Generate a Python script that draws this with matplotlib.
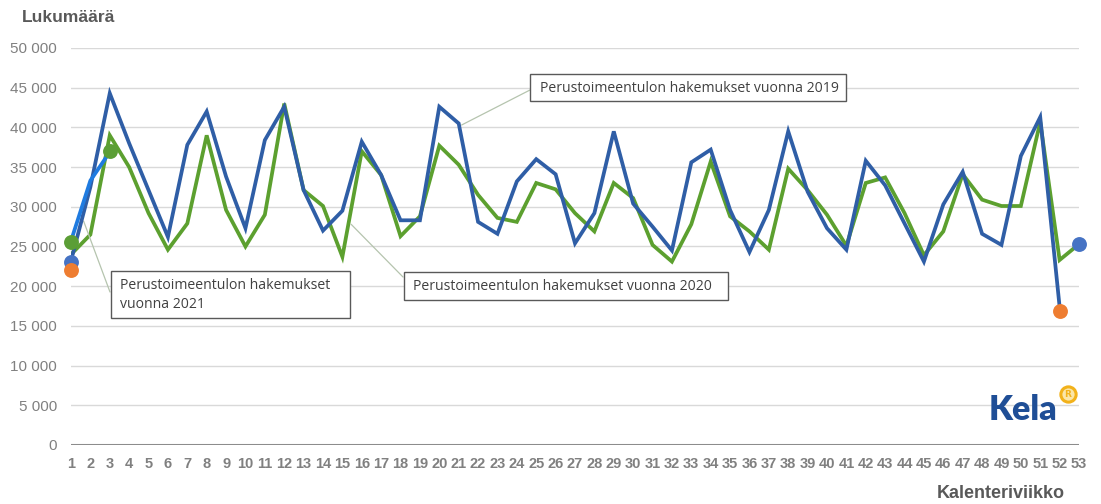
import matplotlib
matplotlib.use("Agg")
import matplotlib.pyplot as plt
from matplotlib.patches import Rectangle
from matplotlib.lines import Line2D

# ---------------- data ----------------
weeks_2019 = list(range(1, 53))
values_2019 = [23200, 32500, 44300, 38000, 32100, 26200, 37800, 42000, 33800, 27300,
               38400, 42600, 32100, 27000, 29500, 38200, 34000, 28300, 28300, 42600,
               40500, 28100, 26600, 33200, 36000, 34100, 25400, 29200, 39500, 30400,
               27500, 24500, 35600, 37200, 29600, 24300, 29600, 39500, 31900, 27300,
               24600, 35800, 32700, 27900, 23100, 30300, 34400, 26600, 25200, 36400,
               41300, 17400]

weeks_2020 = list(range(1, 54))
values_2020 = [24000, 26500, 39000, 35000, 29200, 24600, 27900, 39000, 29600, 25000,
               29000, 43000, 32100, 30100, 23700, 37000, 34000, 26300, 28800, 37700,
               35300, 31500, 28600, 28100, 33000, 32200, 29200, 26900, 33000, 31100,
               25200, 23100, 27800, 35700, 28800, 26900, 24600, 34800, 32100, 29000,
               25100, 33000, 33700, 29200, 23900, 26900, 34100, 30900, 30100, 30100,
               40700, 23300, 25300]

weeks_2021 = [1, 2, 3]
values_2021 = [25700, 33300, 36900]

# highlighted points (week, value, colour key)
dot_weeks = [1, 1, 1, 3, 52, 53]
dot_values = [25600, 23100, 22000, 37000, 16900, 25300]
dot_kinds = ["green", "blue", "orange", "green", "orange", "blue"]

x_ticks = list(range(1, 54))
y_ticks = list(range(0, 50001, 5000))
y_tick_labels = ["0" if v == 0 else f"{v // 1000} 000" for v in y_ticks]

labels = ["Perustoimeentulon hakemukset vuonna 2019",
          "Perustoimeentulon hakemukset vuonna 2020",
          "Perustoimeentulon hakemukset\nvuonna 2021"]

# ---------------- style ----------------
C_2019 = "#2f5ea6"
C_2020 = "#5ca02f"
C_2021 = "#1f7be0"
DOT = {"green": "#5b9e36", "blue": "#4673c4", "orange": "#ee7d31"}
GRID = "#d9d9d9"
TICK = "#808080"

W, H = 1101, 504
fig = plt.figure(figsize=(W / 100, H / 100), dpi=100)
fig.patch.set_facecolor("white")

def fx(px):
    return px / W

def fy(py):
    return 1 - py / H

ax_left, ax_right, ax_top, ax_bottom = 71, 1079, 48, 445
ax = fig.add_axes([fx(ax_left), fy(ax_bottom), fx(ax_right - ax_left), (ax_bottom - ax_top) / H])
ax.set_xlim(1, 53)
ax.set_ylim(0, 50000)
for s in ax.spines.values():
    s.set_visible(False)
ax.set_yticks(y_ticks)
ax.set_yticklabels(y_tick_labels, fontfamily="Liberation Sans", fontsize=11, color=TICK)
ax.set_xticks(x_ticks)
ax.set_xticklabels([str(w) for w in x_ticks], fontfamily="Liberation Sans",
                   fontsize=10.5, fontweight="bold", color=TICK)
ax.tick_params(axis="both", length=0)
ax.tick_params(axis="y", pad=10)
ax.tick_params(axis="x", pad=9)
ax.grid(axis="y", color=GRID, lw=1.0)
ax.set_axisbelow(True)
ax.axhline(0, color="#8c8c8c", lw=2.2, zorder=2)

ax.plot(weeks_2020, values_2020, color=C_2020, lw=2.7, zorder=3, solid_joinstyle="miter")
ax.plot(weeks_2019, values_2019, color=C_2019, lw=2.7, zorder=4, solid_joinstyle="miter")
ax.plot(weeks_2021, values_2021, color=C_2021, lw=2.7, zorder=5)
for w, v, k in zip(dot_weeks, dot_values, dot_kinds):
    ax.scatter([w], [v], s=115, color=DOT[k], zorder=6, clip_on=False, linewidths=0)

# ---------------- annotations ----------------
conn_col = "#b5c4ae"
ann_font = dict(fontfamily="Open Sans", fontsize=10.1, color="#404040")

def box(x0, y0, x1, y1):
    fig.patches.append(Rectangle((fx(x0), fy(y1)), fx(x1 - x0), (y1 - y0) / H,
                                 transform=fig.transFigure, facecolor="white",
                                 edgecolor="#595959", lw=1.0, zorder=10))

# 2019
ax.annotate("", xy=(21.15, 40300), xytext=(530, H - 90), textcoords="figure pixels",
            arrowprops=dict(arrowstyle="-", color=conn_col, lw=0.9, shrinkA=0, shrinkB=0))
box(530, 74, 846, 101)
fig.text(fx(540), fy(88), labels[0], va="center", ha="left", zorder=11, **ann_font)

# 2020
ax.annotate("", xy=(15.45, 27800), xytext=(403, H - 277), textcoords="figure pixels",
            arrowprops=dict(arrowstyle="-", color=conn_col, lw=0.9, shrinkA=0, shrinkB=0))
box(404, 272, 728, 300)
fig.text(fx(413), fy(286), labels[1], va="center", ha="left", zorder=11, **ann_font)

# 2021
ax.annotate("", xy=(1.65, 28200), xytext=(110, H - 292), textcoords="figure pixels",
            arrowprops=dict(arrowstyle="-", color=conn_col, lw=0.9, shrinkA=0, shrinkB=0))
box(111, 271, 350, 318)
fig.text(fx(120), fy(295), labels[2], va="center", ha="left", zorder=11,
         linespacing=1.4, **ann_font)

# ---------------- titles ----------------
fig.text(fx(22), fy(17), "Lukumäärä", fontfamily="Liberation Sans", fontweight="bold",
         fontsize=12.5, color="#595959", va="center", ha="left")
fig.text(fx(1065), fy(493), "Kalenteriviikko", fontfamily="Liberation Sans", fontweight="bold",
         fontsize=13, color="#595959", va="center", ha="right")

# ---------------- Kela logo ----------------
fig.text(fx(989), fy(410), "Kela", fontfamily="Lato", fontweight="heavy",
         fontsize=24.5, color="#1f4e96", va="center", ha="left")
fig.add_artist(Line2D([fx(1068)], [fy(394)], transform=fig.transFigure, marker="o",
                      markersize=11, markerfacecolor="#fbe6a8", markeredgecolor="#f2b21b",
                      markeredgewidth=2.2, linestyle="none"))
fig.text(fx(1068), fy(394.5), "R", fontfamily="DejaVu Sans", fontweight="bold",
         fontsize=6.5, color="#f2b21b", va="center", ha="center")

fig.savefig("out.png", dpi=100)
